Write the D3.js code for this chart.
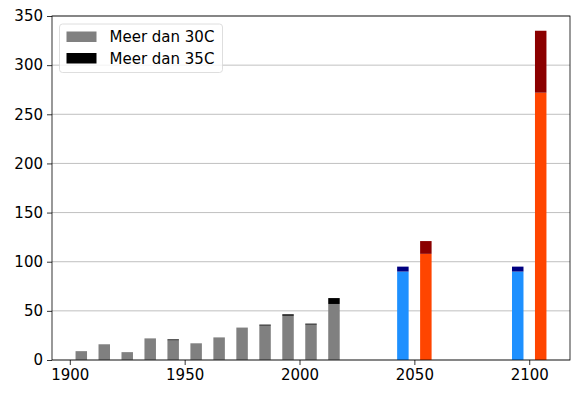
<!DOCTYPE html>
<html lang="nl">
<head>
<meta charset="UTF-8">
<script src="https://d3js.org/d3.v7.min.js"></script>
<style>
  body { margin: 0; background: #fff; }
  svg text { font-family: 'DejaVu Sans', sans-serif; fill: #000; }
</style>
</head>
<body>
<svg id="chart" width="581" height="397"></svg>
<script>
// measured decades
const years = [1905, 1915, 1925, 1935, 1945, 1955, 1965, 1975, 1985, 1995, 2005, 2015];
const above30 = [9, 16, 8, 22, 20, 17, 23, 33, 35, 45, 36, 57];
const above35 = [0, 0, 0, 0, 1, 0, 0, 0, 1, 1.5, 1, 6];

// scenarios
const scenYears = [2045, 2055, 2095, 2105];
const scen30 = [90, 108, 90, 272];
const scen35 = [5, 13, 5, 63];
const scen30Colors = ['#1e90ff', '#ff4500', '#1e90ff', '#ff4500'];
const scen35Colors = ['#000080', '#8b0000', '#000080', '#8b0000'];

const xTicks = [1900, 1950, 2000, 2050, 2100];
const yTicks = [0, 50, 100, 150, 200, 250, 300, 350];
const legendLabels = ['Meer dan 30C', 'Meer dan 35C'];
const legendColors = ['#808080', '#000000'];

const margin = { left: 52, right: 11, top: 16, bottom: 37 };
const width = 581, height = 397;
const barW = 5;
const fontSize = '15px';

const svg = d3.select('#chart');
const x = d3.scaleLinear().domain([1892.25, 2117.75]).range([margin.left, width - margin.right]);
const y = d3.scaleLinear().domain([0, 350]).range([height - margin.bottom, margin.top]);

// grid
svg.append('g')
  .selectAll('line')
  .data(yTicks)
  .join('line')
  .attr('x1', margin.left).attr('x2', width - margin.right)
  .attr('y1', d => y(d)).attr('y2', d => y(d))
  .attr('stroke', '#b0b0b0').attr('stroke-width', 0.8);

// historical bars
const hist = years.map((yr, i) => ({ yr, a: above30[i], b: above35[i] }));
svg.append('g').selectAll('rect')
  .data(hist).join('rect')
  .attr('x', d => x(d.yr - barW / 2))
  .attr('width', d => x(d.yr + barW / 2) - x(d.yr - barW / 2))
  .attr('y', d => y(d.a))
  .attr('height', d => y(0) - y(d.a))
  .attr('fill', '#808080');
svg.append('g').selectAll('rect')
  .data(hist.filter(d => d.b > 0)).join('rect')
  .attr('x', d => x(d.yr - barW / 2))
  .attr('width', d => x(d.yr + barW / 2) - x(d.yr - barW / 2))
  .attr('y', d => y(d.a + d.b))
  .attr('height', d => y(d.a) - y(d.a + d.b))
  .attr('fill', '#000');

// scenario bars
const scen = scenYears.map((yr, i) => ({ yr, a: scen30[i], b: scen35[i], ca: scen30Colors[i], cb: scen35Colors[i] }));
svg.append('g').selectAll('rect')
  .data(scen).join('rect')
  .attr('x', d => x(d.yr - barW / 2))
  .attr('width', d => x(d.yr + barW / 2) - x(d.yr - barW / 2))
  .attr('y', d => y(d.a))
  .attr('height', d => y(0) - y(d.a))
  .attr('fill', d => d.ca);
svg.append('g').selectAll('rect')
  .data(scen).join('rect')
  .attr('x', d => x(d.yr - barW / 2))
  .attr('width', d => x(d.yr + barW / 2) - x(d.yr - barW / 2))
  .attr('y', d => y(d.a + d.b))
  .attr('height', d => y(d.a) - y(d.a + d.b))
  .attr('fill', d => d.cb);

// axes
const xAxis = svg.append('g')
  .attr('transform', `translate(0,${height - margin.bottom})`)
  .call(d3.axisBottom(x).tickValues(xTicks).tickFormat(d3.format('d')).tickSize(5).tickPadding(4));
const yAxis = svg.append('g')
  .attr('transform', `translate(${margin.left},0)`)
  .call(d3.axisLeft(y).tickValues(yTicks).tickSize(5).tickPadding(4));
[xAxis, yAxis].forEach(g => {
  g.select('.domain').remove();
  g.selectAll('line').attr('stroke', '#000').attr('stroke-width', 0.8);
  g.selectAll('text').attr('font-size', fontSize).attr('font-family', 'DejaVu Sans, sans-serif');
});

// frame
svg.append('rect')
  .attr('x', margin.left).attr('y', margin.top)
  .attr('width', width - margin.right - margin.left)
  .attr('height', height - margin.bottom - margin.top)
  .attr('fill', 'none').attr('stroke', '#000').attr('stroke-width', 0.8);

// legend
const lg = svg.append('g').attr('transform', 'translate(59.5,24)');
lg.append('rect')
  .attr('width', 163).attr('height', 48.5).attr('rx', 3)
  .attr('fill', '#fff').attr('fill-opacity', 0.8)
  .attr('stroke', '#d6d6d6').attr('stroke-width', 0.8);
legendLabels.forEach((lab, i) => {
  lg.append('rect')
    .attr('x', 7).attr('y', 7.5 + i * 21.5)
    .attr('width', 30).attr('height', 10.5)
    .attr('fill', legendColors[i]);
  lg.append('text')
    .attr('x', 50).attr('y', 12.8 + i * 21.5)
    .attr('dy', '0.36em')
    .attr('font-size', fontSize)
    .text(lab);
});
</script>
</body>
</html>
